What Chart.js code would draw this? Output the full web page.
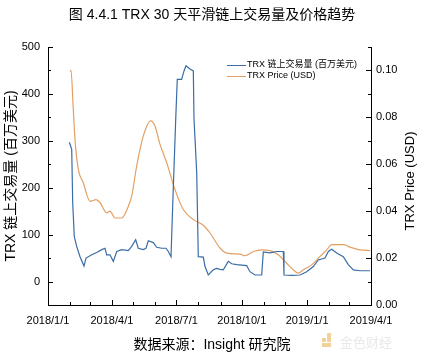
<!DOCTYPE html>
<html>
<head>
<meta charset="utf-8">
<script src="https://cdn.jsdelivr.net/npm/chart.js@4/dist/chart.umd.min.js"></script>
<style>
  html, body { margin: 0; padding: 0; background: #fff; }
  canvas { display: block; }
</style>
</head>
<body>
<canvas id="grafico" width="422" height="353"></canvas>
<script>
// days counted from 2018/1/1
var volDays = [30.0, 33.4, 34.8, 37.0, 40.4, 45.1, 50.7, 53.5, 61.6, 68.6, 75.6, 80.3, 82.7, 87.3, 92.0, 96.8, 103.8, 113.1, 117.9, 123.5,
  127.2, 134.2, 138.0, 141.3, 148.3, 153.1, 160.2, 166.2, 169.5, 173.3, 175.6, 179.9, 182.1, 188.3, 191.6, 194.4, 200.0, 204.7, 205.7, 209.5,
  211.7, 218.8, 221.2, 225.8, 232.8, 237.6, 242.3, 246.9, 254.0, 258.8, 265.8, 279.9, 284.5, 291.6, 301.0, 303.3, 312.7, 322.2, 331.5, 332.4,
  343.3, 355.0, 364.4, 373.7, 380.8, 390.2, 394.9, 399.6, 406.7, 416.0, 423.0, 430.1, 439.5, 453.6];
var volume = [297, 282, 168, 96, 75, 53, 33, 50, 57, 62, 68, 71, 57, 57, 43, 64, 68, 66, 75, 89,
  71, 68, 71, 87, 83, 73, 71, 71, 64, 53, 160, 346, 431, 431, 449, 460, 453, 449, 346, 232,
  53, 52, 32, 14, 25, 28, 26, 25, 43, 38, 36, 34, 21, 14, 14, 63, 61, 64, 64, 14,
  13, 14, 21, 32, 46, 50, 64, 69, 61, 53, 36, 25, 23, 23];

var priceDays = [31.0, 32.4, 35.6, 38.0, 42.7, 49.7, 59.2, 67.6, 73.2, 82.7, 87.3, 94.4, 103.8, 113.1, 117.9, 124.9, 134.2, 144.7, 150.7, 157.8,
  167.2, 178.9, 190.6, 204.7, 218.8, 228.2, 242.3, 251.7, 270.5, 277.5, 289.2, 301.0, 312.7, 324.4, 336.2, 345.5, 352.6, 359.6, 371.5, 383.2,
  392.6, 399.6, 416.0, 425.4, 439.5, 453.6];
var price = [0.0996, 0.100, 0.0835, 0.0706, 0.0578, 0.0521, 0.0442, 0.0449, 0.0437, 0.0393, 0.040, 0.0371, 0.0371, 0.042, 0.0464, 0.0592, 0.072, 0.0785, 0.0763, 0.0685,
  0.0607, 0.0492, 0.0407, 0.0364, 0.034, 0.0307, 0.0243, 0.0221, 0.0217, 0.021, 0.0228, 0.0235, 0.0232, 0.0214, 0.0178, 0.015, 0.0136, 0.015, 0.0171, 0.0207,
  0.0235, 0.0257, 0.0257, 0.0247, 0.0235, 0.0232];

var xTickDays = [0, 90, 181, 273, 365, 455];
var xTickLabels = ["2018/1/1", "2018/4/1", "2018/7/1", "2018/10/1", "2019/1/1", "2019/4/1"];
var monthDays = [0, 31, 59, 90, 120, 151, 181, 212, 243, 273, 304, 334, 365, 396, 424, 455];
var volTicks = [0, 100, 200, 300, 400, 500];
var priceTicks = [0, 0.02, 0.04, 0.06, 0.08, 0.10];

var blue = "#3a6da6";
var orange = "#e3a064";
var latin = "'Liberation Sans', Arial, sans-serif";
var cjk = "'Liberation Sans', 'Noto Sans CJK SC', sans-serif";

function pts(xs, ys) {
  return xs.map(function (d, i) { return { x: d, y: ys[i] }; });
}

// ticks, titles, legend and notes drawn by hand
var extras = {
  id: "extras",
  afterDraw: function (chart) {
    var c = chart.ctx;
    var x = chart.scales.x, y = chart.scales.y, y1 = chart.scales.y1;
    var a = chart.chartArea;
    c.save();
    c.strokeStyle = "#000";
    c.lineWidth = 1;
    c.beginPath();
    monthDays.forEach(function (m) {
      var px = Math.round(x.getPixelForValue(m)) + 0.5;
      var len = xTickDays.indexOf(m) >= 0 ? 5 : 3;
      c.moveTo(px, a.bottom); c.lineTo(px, a.bottom - len);
    });
    for (var v = 0; v <= 500; v += 50) {
      var py = Math.round(y.getPixelForValue(v)) + 0.5;
      c.moveTo(a.left, py); c.lineTo(a.left + (v % 100 === 0 ? 5 : 3), py);
    }
    for (var k = 1; k <= 11; k++) {
      var py2 = Math.round(y1.getPixelForValue(k / 100)) + 0.5;
      c.moveTo(a.right, py2); c.lineTo(a.right - (k % 2 === 0 ? 5 : 3), py2);
    }
    c.stroke();

    c.fillStyle = "#000";
    c.textAlign = "center";
    c.textBaseline = "middle";
    c.font = "14px " + cjk;
    c.fillText("图 4.4.1 TRX 30 天平滑链上交易量及价格趋势", 212, 15);
    c.fillText("数据来源：Insight 研究院", 212, 345);

    c.save();
    c.translate(11, 176);
    c.rotate(-Math.PI / 2);
    c.font = "14px " + cjk;
    c.fillText("TRX 链上交易量 (百万美元)", 0, 0);
    c.restore();

    c.save();
    c.translate(410, 181);
    c.rotate(-Math.PI / 2);
    c.font = "13px " + latin;
    c.fillText("TRX Price (USD)", 0, 0);
    c.restore();

    // legend
    c.textAlign = "left";
    c.font = "9px " + cjk;
    c.lineWidth = 1;
    c.strokeStyle = blue;
    c.beginPath(); c.moveTo(227, 65.5); c.lineTo(246, 65.5); c.stroke();
    c.strokeStyle = orange;
    c.beginPath(); c.moveTo(227, 76.5); c.lineTo(246, 76.5); c.stroke();
    c.fillText("TRX 链上交易量 (百万美元)", 247, 65);
    c.fillText("TRX Price (USD)", 247, 76);

    // watermark
    c.fillStyle = "#f3d29a";
    c.fillRect(322, 338, 4, 4);
    c.fillRect(327, 333, 4, 9);
    c.fillRect(322, 343, 9, 4);
    c.fillStyle = "#e9e9e9";
    c.font = "13px " + cjk;
    c.fillText("金色财经", 340, 343);
    c.restore();
  }
};

var ctx = document.getElementById("grafico").getContext("2d");
var chart = new Chart(ctx, {
  type: "line",
  data: {
    datasets: [
      {
        label: "TRX 链上交易量 (百万美元)",
        data: pts(volDays, volume),
        yAxisID: "y",
        borderColor: blue,
        borderWidth: 1.2,
        pointRadius: 0,
        tension: 0
      },
      {
        label: "TRX Price (USD)",
        data: pts(priceDays, price),
        yAxisID: "y1",
        borderColor: orange,
        borderWidth: 1.2,
        pointRadius: 0,
        cubicInterpolationMode: "monotone"
      }
    ]
  },
  options: {
    responsive: false,
    animation: false,
    layout: { padding: { top: 47, left: 0, right: 0, bottom: 0 } },
    plugins: { legend: { display: false }, tooltip: { enabled: false } },
    scales: {
      x: {
        type: "linear",
        min: 0,
        max: 455,
        afterFit: function (s) { s.height = 48; },
        afterBuildTicks: function (s) { s.ticks = xTickDays.map(function (v) { return { value: v }; }); },
        grid: { display: false, drawTicks: false },
        border: { display: true, color: "#000", width: 1 },
        ticks: {
          padding: 9,
          maxRotation: 0,
          autoSkip: false,
          color: "#000",
          font: { family: latin, size: 11 },
          callback: function (v) { return xTickLabels[xTickDays.indexOf(v)]; }
        }
      },
      y: {
        position: "left",
        min: -50,
        max: 500,
        afterFit: function (s) { s.width = 48; },
        afterBuildTicks: function (s) { s.ticks = volTicks.map(function (v) { return { value: v }; }); },
        grid: { display: false, drawTicks: false },
        border: { display: true, color: "#000", width: 1 },
        ticks: { padding: 8, color: "#000", font: { family: latin, size: 11 } }
      },
      y1: {
        position: "right",
        min: 0,
        max: 0.11,
        afterFit: function (s) { s.width = 51; },
        afterBuildTicks: function (s) { s.ticks = priceTicks.map(function (v) { return { value: v }; }); },
        grid: { display: false, drawTicks: false },
        border: { display: true, color: "#000", width: 1 },
        ticks: {
          padding: 5,
          color: "#000",
          font: { family: latin, size: 11 },
          callback: function (v) { return v.toFixed(2); }
        }
      }
    }
  },
  plugins: [extras]
});
</script>
</body>
</html>
